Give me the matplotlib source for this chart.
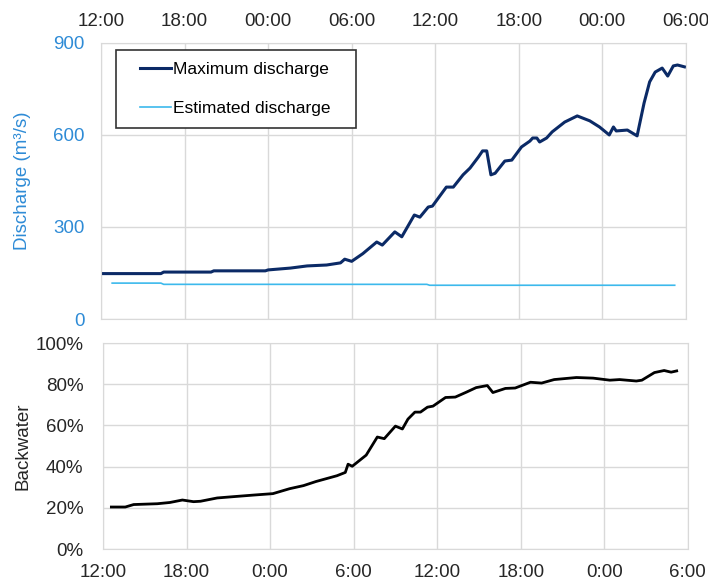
import matplotlib.pyplot as plt
from matplotlib.patches import Rectangle
from matplotlib.ticker import FuncFormatter

plt.rcParams['font.family'] = ['Liberation Sans', 'DejaVu Sans']

# hours since 12:00 of the first day
max_hours = [0, 4.3, 4.5, 7.9, 8.1, 11.8, 12.0, 13.6, 14.8, 16.2, 17.2, 17.5, 18.0, 18.8,
             19.8, 20.2, 21.1, 21.6, 22.5, 22.9, 23.5, 23.8, 24.8, 25.3, 26.0, 26.5,
             27.1, 27.4, 27.7, 28.0, 28.3, 29.0, 29.5, 30.2, 30.8, 31.0, 31.3, 31.5,
             32.0, 32.4, 33.3, 34.2, 35.1, 35.8, 36.5, 36.8, 37.0, 37.8, 38.5, 39.0,
             39.4, 39.8, 40.3, 40.7, 41.1, 41.4, 41.9]
max_discharge = [148, 148, 153, 153, 157, 157, 160, 166, 173, 176, 183, 195, 188, 213,
                 251, 241, 284, 268, 339, 332, 365, 368, 430, 430, 470, 492,
                 528, 548, 548, 470, 475, 515, 518, 561, 580, 590, 590, 577,
                 590, 610, 642, 662, 646, 626, 600, 626, 613, 616, 597, 704,
                 773, 805, 818, 792, 825, 828, 822]

est_hours = [0.8, 4.3, 4.5, 23.4, 23.6, 41.2]
est_discharge = [117, 117, 113, 113, 110, 110]

bw_hours = [0.6, 1.6, 2.2, 3.9, 4.8, 5.7, 6.5, 7.0, 8.2, 9.3, 10.8, 12.2, 13.4, 14.4,
            15.3, 16.8, 17.4, 17.6, 17.9, 18.9, 19.7, 20.2, 21.0, 21.5, 21.9, 22.4,
            22.8, 23.3, 23.7, 24.6, 25.3, 26.1, 26.8, 27.6, 28.0, 28.9, 29.6, 30.7,
            31.5, 32.4, 34.0, 35.2, 36.4, 37.1, 38.3, 38.7, 39.6, 40.3, 40.8, 41.2]
backwater = [20.4, 20.4, 21.6, 22.0, 22.6, 23.8, 23.0, 23.2, 24.8, 25.4, 26.2, 26.9, 29.3, 30.8,
             32.8, 35.6, 37.2, 41.2, 40.2, 45.6, 54.4, 53.6, 59.7, 58.3, 63.1, 66.5,
             66.5, 68.9, 69.4, 73.6, 73.8, 76.2, 78.4, 79.4, 76.0, 78.0, 78.2, 81.0,
             80.6, 82.3, 83.3, 83.0, 82.0, 82.3, 81.6, 82.0, 85.7, 86.7, 85.9, 86.5]

tick_hours = [0, 6, 12, 18, 24, 30, 36, 42]
top_labels = ['12:00', '18:00', '00:00', '06:00', '12:00', '18:00', '00:00', '06:00']
bottom_labels = ['12:00', '18:00', '0:00', '6:00', '12:00', '18:00', '0:00', '6:00']

blue_text = '#2E8BD6'
grid_col = '#D9D9D9'
text_col = '#262626'
fs = 13.5

fig = plt.figure(figsize=(7.08, 5.8), dpi=100)
ax1 = fig.add_axes([0.1427, 0.45, 0.826, 0.476])
ax2 = fig.add_axes([0.1455, 0.0534, 0.826, 0.355])

# --- top panel: discharge
ax1.plot(max_hours, max_discharge, color='#0B2A66', lw=2.2, label='Maximum discharge')
ax1.plot(est_hours, est_discharge, color='#3CB9EC', lw=1.2, label='Estimated discharge')
ax1.set_xlim(0, 42)
ax1.set_ylim(0, 900)
ax1.set_yticks([0, 300, 600, 900])
ax1.set_xticks(tick_hours)
ax1.set_xticklabels(top_labels)
ax1.xaxis.tick_top()
ax1.tick_params(axis='x', length=0, labelsize=fs, colors=text_col, pad=9)
ax1.tick_params(axis='y', length=0, labelsize=fs, colors=blue_text, pad=12)
ax1.set_ylabel('Discharge (m³/s)', color=blue_text, fontsize=fs)
ax1.yaxis.set_label_coords(-0.12, 0.5)
ax1.grid(True, color=grid_col, lw=1)
ax1.set_axisbelow(True)
for s in ax1.spines.values():
    s.set_color(grid_col)

# legend: entries without frame, plus a plain square box around them
leg = ax1.legend(loc='upper left', fontsize=12.5, frameon=False,
                 handlelength=1.8, handletextpad=0.15, labelspacing=1.33,
                 borderpad=0, borderaxespad=0, bbox_to_anchor=(0.066, 0.93))
ax1.add_patch(Rectangle((0.0256, 0.692), 0.41, 0.283, transform=ax1.transAxes,
                        fill=True, facecolor='white', edgecolor='#333333', lw=1.2, zorder=4))
leg.set_zorder(5)

# --- bottom panel: backwater
ax2.plot(bw_hours, backwater, color='black', lw=2)
ax2.set_xlim(0, 42)
ax2.set_ylim(0, 100)
ax2.set_yticks([0, 20, 40, 60, 80, 100])
ax2.yaxis.set_major_formatter(FuncFormatter(lambda v, p: f'{v:.0f}%'))
ax2.set_xticks(tick_hours)
ax2.set_xticklabels(bottom_labels)
ax2.tick_params(axis='both', length=0, labelsize=fs, colors=text_col)
ax2.tick_params(axis='y', pad=14)
ax2.tick_params(axis='x', pad=11)
ax2.set_ylabel('Backwater', color=text_col, fontsize=fs)
ax2.yaxis.set_label_coords(-0.122, 0.5)
ax2.grid(True, color=grid_col, lw=1)
ax2.set_axisbelow(True)
for s in ax2.spines.values():
    s.set_color(grid_col)

fig.savefig('out.png', dpi=100)
